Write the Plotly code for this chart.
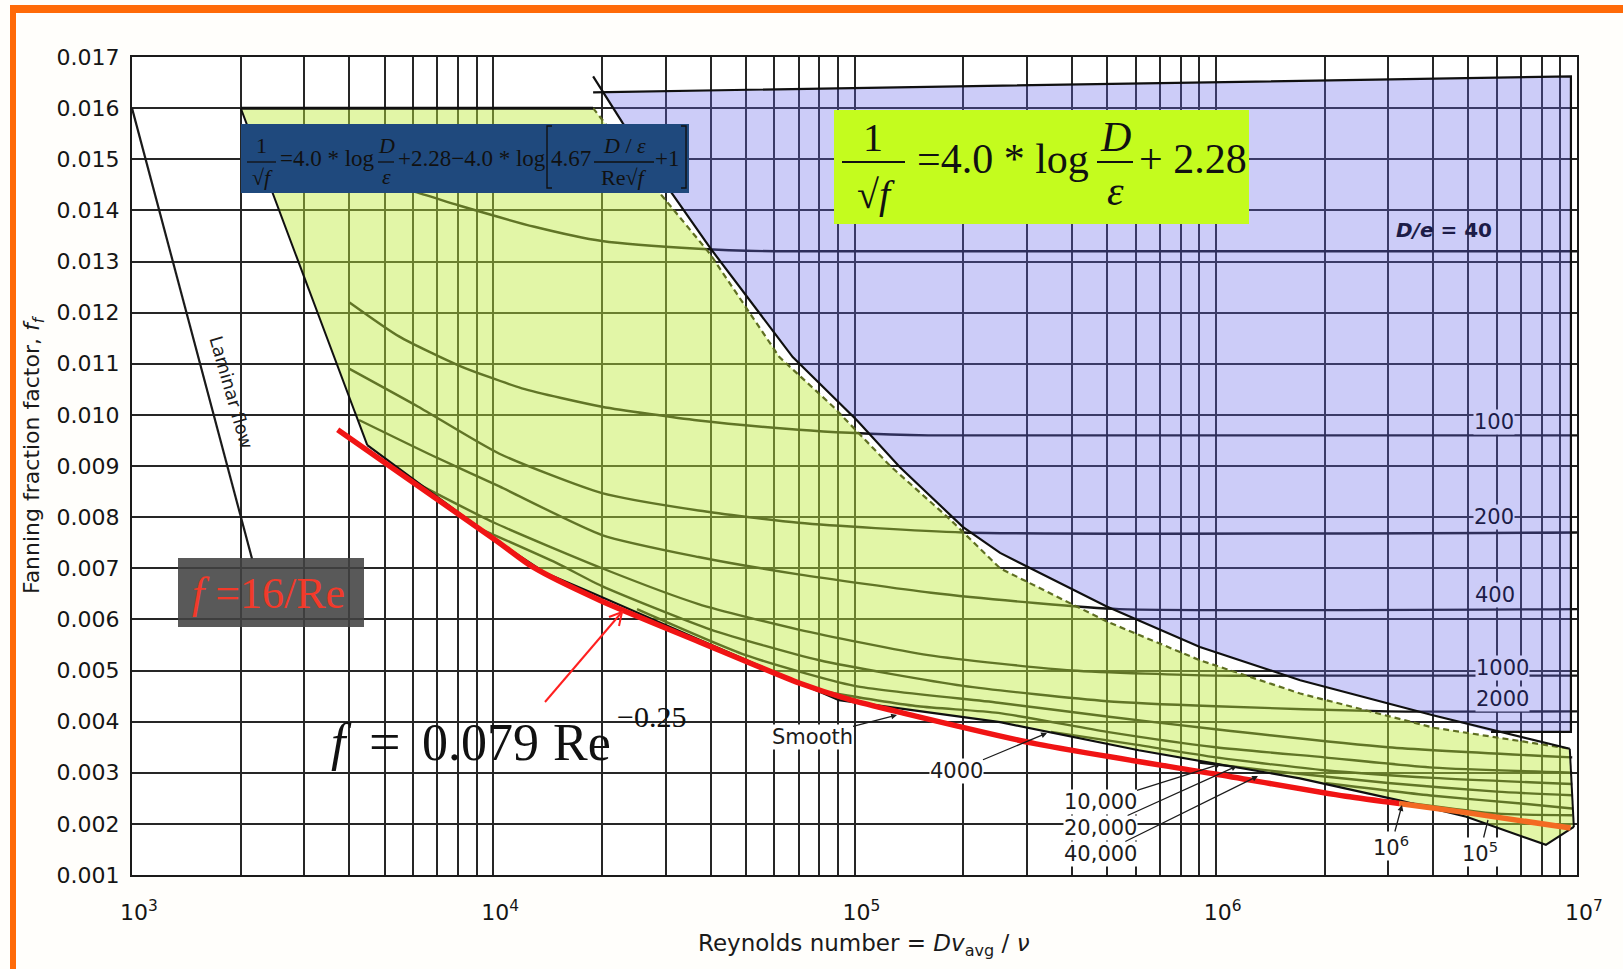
import plotly.graph_objects as go

# ---------------- data ----------------
x_decades = [1e3, 1e4, 1e5, 1e6, 1e7]
x_decade_labels = ["10<sup>3</sup>", "10<sup>4</sup>", "10<sup>5</sup>", "10<sup>6</sup>", "10<sup>7</sup>"]
x_minor_digits = [2, 3, 4, 5, 6, 7, 8, 9]
y_tick_values = [0.001, 0.002, 0.003, 0.004, 0.005, 0.006, 0.007, 0.008, 0.009,
                 0.010, 0.011, 0.012, 0.013, 0.014, 0.015, 0.016, 0.017]
y_tick_labels = ["0.001", "0.002", "0.003", "0.004", "0.005", "0.006", "0.007", "0.008", "0.009",
                 "0.010", "0.011", "0.012", "0.013", "0.014", "0.015", "0.016", "0.017"]

laminar_re = [1000, 2150]
laminar_f = [0.0160, 0.00718]

# roughness curves D/e
re_40 = [2300, 3000, 4000, 6000, 8000, 13000, 20000, 37000, 60000, 10000000]
f_40 = [0.0150, 0.01485, 0.01465, 0.01437, 0.0141, 0.01368, 0.0134, 0.01325, 0.0132, 0.0132]
re_100 = [4000, 5500, 8000, 12000, 20000, 37000, 70000, 97000, 160000, 10000000]
f_100 = [0.0122, 0.01153, 0.01097, 0.01052, 0.01016, 0.00989, 0.00971, 0.00965, 0.0096, 0.0096]
re_200 = [4000, 6200, 10400, 20000, 37000, 70000, 200000, 10000000]
f_200 = [0.0109, 0.01016, 0.00924, 0.00847, 0.00813, 0.00789, 0.0077, 0.0077]
re_400 = [4250, 6800, 10400, 20000, 37000, 70000, 163000, 316000, 540000, 10000000]
f_400 = [0.0099, 0.0092, 0.0086, 0.00765, 0.00722, 0.00688, 0.00652, 0.00632, 0.0062, 0.0062]
re_1000 = [6000, 10000, 20000, 37000, 70000, 160000, 400000, 1000000, 1700000, 10000000]
f_1000 = [0.0087, 0.0079, 0.0070, 0.0063, 0.0058, 0.0053, 0.0050, 0.0049, 0.0049, 0.0049]
re_2000 = [9000, 15000, 20000, 40000, 80000, 200000, 500000, 1000000, 3000000, 10000000]
f_2000 = [0.0078, 0.0071, 0.00665, 0.0058, 0.0052, 0.0047, 0.0044, 0.0043, 0.0042, 0.0042]
re_4000 = [25000, 50000, 100000, 250000, 500000, 1000000, 3000000, 9700000]
f_4000 = [0.0062, 0.0053, 0.0047, 0.00437, 0.0041, 0.00385, 0.0035, 0.0033]
re_1e4 = [80000, 150000, 250000, 500000, 1000000, 2000000, 4000000, 9700000]
f_1e4 = [0.0046, 0.0043, 0.00417, 0.0038, 0.0035, 0.0033, 0.0031, 0.0030]
re_2e4 = [350000, 600000, 1000000, 2000000, 4000000, 9700000]
f_2e4 = [0.0038, 0.00355, 0.0033, 0.00305, 0.0029, 0.00278]
re_4e4 = [900000, 1500000, 3000000, 6000000, 9700000]
f_4e4 = [0.0032, 0.00302, 0.0028, 0.00263, 0.00256]
re_1e5 = [2000000, 4000000, 7000000, 9700000]
f_1e5 = [0.0028, 0.00255, 0.0024, 0.0023]
re_1e6 = [3500000, 6000000, 9700000]
f_1e6 = [0.0024, 0.0022, 0.00217]

# smooth-pipe boundary (lower black line of the green band)
re_smooth = [4480, 10200, 14000, 18880, 37200, 70600, 90600, 253000, 612000,
             1710000, 3220000, 4940000, 6380000, 8200000, 9800000]
f_smooth = [0.00941, 0.00754, 0.0069, 0.00651, 0.0056, 0.00475, 0.00442, 0.00399, 0.00344,
            0.00289, 0.00246, 0.00214, 0.00187, 0.00159, 0.00194]

# upper (dashed) edge of the green band
re_green_edge = [18900, 28970, 39800, 61960, 87330, 125600, 184200, 252700, 498700,
                 903600, 1713000, 4017000, 9550000]
f_green_edge = [0.0160, 0.01433, 0.01315, 0.01113, 0.01016, 0.0090, 0.00795, 0.0070, 0.00596,
                0.0052, 0.00455, 0.00388, 0.00347]
re_green_left = [2000, 18900]
f_green_left = [0.0160, 0.0160]
re_green_corner = [2000, 4480]
f_green_corner = [0.0160, 0.00941]

# black boundary of the fully rough (blue) zone
re_blue_edge = [18900, 22850, 39800, 67450, 101700, 133400, 199400, 253000, 499000,
                904000, 1713000, 4017000, 9550000]
f_blue_edge = [0.01662, 0.0157, 0.01327, 0.01113, 0.00989, 0.00898, 0.00781, 0.0073, 0.00625,
               0.00546, 0.00481, 0.00412, 0.00347]
re_blue_frame = [18900, 9620000, 9620000, 5780000]
f_blue_frame = [0.01631, 0.01662, 0.0038, 0.0038]
re_blue_corner = [20200]
f_blue_corner = [0.01631]
re_green_right = [9550000, 9800000]
f_green_right = [0.00347, 0.00194]

# red hand-drawn f = 0.079 Re^-0.25 line
re_red = [3710, 10200, 12900, 19770, 37200, 70600, 97000, 134000, 316000, 1005000, 2290000, 3220000]
f_red = [0.00971, 0.00754, 0.00702, 0.00637, 0.00556, 0.00475, 0.00443, 0.00418, 0.00357,
         0.00297, 0.00254, 0.0024]
re_orange = [3220000, 4940000, 9600000]
f_orange = [0.0024, 0.00222, 0.00192]

# ---------------- figure ----------------
L, R, T, B = 132, 1577, 57, 875
W, H = R - L, B - T


def X(p):
    return (p - L) / W


def Y(p):
    return (B - p) / H


fig = go.Figure()

curves = [(re_40, f_40), (re_100, f_100), (re_200, f_200), (re_400, f_400),
          (re_1000, f_1000), (re_2000, f_2000), (re_4000, f_4000), (re_1e4, f_1e4),
          (re_2e4, f_2e4), (re_4e4, f_4e4), (re_1e5, f_1e5), (re_1e6, f_1e6)]
for cx, cy in curves:
    fig.add_trace(go.Scatter(x=cx, y=cy, mode="lines",
                             line=dict(color="#141414", width=2.4, shape="spline", smoothing=0.6),
                             hoverinfo="skip"))

fig.add_trace(go.Scatter(x=laminar_re, y=laminar_f, mode="lines", line=dict(color="#1a1a1a", width=2.2),
                         hoverinfo="skip"))

# blue fully-rough zone (translucent overlay)
blue_x = re_blue_corner + re_blue_frame[1:] + re_blue_edge[1:-1][::-1] + re_blue_corner
blue_y = f_blue_corner + f_blue_frame[1:] + f_blue_edge[1:-1][::-1] + f_blue_corner
fig.add_trace(go.Scatter(x=blue_x, y=blue_y, mode="lines", fill="toself", fillcolor="rgba(100,100,235,0.33)",
                         line=dict(width=0, color="rgba(0,0,0,0)"), hoverinfo="skip"))

# green transition zone (translucent overlay)
green_x = [re_green_left[0]] + re_green_edge + re_smooth[::-1] + [re_green_left[0]]
green_y = [f_green_left[0]] + f_green_edge + f_smooth[::-1] + [f_green_left[0]]
fig.add_trace(go.Scatter(x=green_x, y=green_y, mode="lines", fill="toself", fillcolor="rgba(190,235,60,0.45)",
                         line=dict(width=0, color="rgba(0,0,0,0)"), hoverinfo="skip"))

# dashed olive edge
fig.add_trace(go.Scatter(x=re_green_edge, y=f_green_edge, mode="lines",
                         line=dict(color="#5f6f22", width=2.2, dash="6px,4px"), hoverinfo="skip"))

# black outlines
for ox, oy, wd in [(re_blue_edge, f_blue_edge, 2.2), (re_blue_frame, f_blue_frame, 2.2),
                   (re_green_right, f_green_right, 2.0), (re_smooth, f_smooth, 2.2),
                   (re_green_corner, f_green_corner, 2.0), (re_green_left, f_green_left, 3.0)]:
    fig.add_trace(go.Scatter(x=ox, y=oy, mode="lines", line=dict(color="#101010", width=wd),
                             hoverinfo="skip"))

# red curve
fig.add_trace(go.Scatter(x=re_red, y=f_red, mode="lines",
                         line=dict(color="#f01414", width=5.5, shape="spline", smoothing=0.7),
                         hoverinfo="skip"))
fig.add_trace(go.Scatter(x=re_orange, y=f_orange, mode="lines",
                         line=dict(color="#f36a22", width=5.5, shape="spline"),
                         hoverinfo="skip"))

# ---------------- axes ----------------
minor_vals = [d * m for d in x_decades[:-1] for m in x_minor_digits]

fig.update_xaxes(type="log", range=[3, 7], tickmode="array", tickvals=x_decades, ticktext=x_decade_labels,
                 showgrid=True, gridcolor="#262626", gridwidth=2,
                 minor=dict(tickmode="array", tickvals=minor_vals, showgrid=True,
                            gridcolor="#262626", gridwidth=2, ticks=""),
                 ticks="outside", ticklen=17, tickcolor="rgba(0,0,0,0)", ticklabelshift=7,
                 tickfont=dict(family="DejaVu Sans", size=22, color="#151515"),
                 showline=True, linecolor="#1a1a1a", linewidth=2, mirror=True, zeroline=False)
fig.update_yaxes(range=[0.001, 0.017], tickmode="array", tickvals=y_tick_values, ticktext=y_tick_labels,
                 showgrid=True, gridcolor="#262626", gridwidth=2,
                 ticks="outside", ticklen=6, tickcolor="rgba(0,0,0,0)",
                 tickfont=dict(family="DejaVu Sans", size=22, color="#151515"),
                 showline=True, linecolor="#1a1a1a", linewidth=2, mirror=True, zeroline=False)

# ---------------- shapes ----------------
shapes = []


def rect(x0, y0, x1, y1, color):
    shapes.append(dict(type="rect", xref="paper", yref="paper", x0=X(x0), x1=X(x1), y0=Y(y1), y1=Y(y0),
                       fillcolor=color, line=dict(width=0)))


def hline(x0, x1, y, width, color="#111111"):
    shapes.append(dict(type="line", xref="paper", yref="paper", x0=X(x0), x1=X(x1), y0=Y(y), y1=Y(y),
                       line=dict(width=width, color=color)))


def polyline(pts, width, color):
    path = "M " + " L ".join("{},{}".format(X(a), Y(b)) for a, b in pts)
    shapes.append(dict(type="path", xref="paper", yref="paper", path=path,
                       line=dict(width=width, color=color)))


rect(10, 5, 1630, 13, "#ff6a08")
rect(10, 5, 16, 975, "#ff6a08")
rect(241, 124, 689, 193, "#1f497d")
rect(834, 110, 1249, 224, "#c4fc1e")
rect(178, 558, 364, 627, "rgba(66,66,66,0.88)")

# fraction bars
hline(842, 905, 162, 2.2)
hline(1097, 1133, 162, 2.2)
hline(247, 276, 162, 1.3)
hline(378, 394, 162, 1.3)
hline(594, 654, 162, 1.3)

# brackets in the blue formula
polyline([(552, 126), (547, 126), (547, 188), (552, 188)], 1.4, "#111111")
polyline([(681, 126), (686, 126), (686, 188), (681, 188)], 1.4, "#111111")

# red pointer towards the red curve
polyline([(545, 702), (622, 612)], 2, "#ff2020")
polyline([(609, 617), (622, 612), (619, 626)], 2, "#ff2020")

fig.update_layout(shapes=shapes)

# ---------------- annotations ----------------
anns = []


def txt(text, x, y, size, color="#111111", family="Liberation Serif", angle=0, bg=None):
    a = dict(xref="paper", yref="paper", x=X(x), y=Y(y), text=text, showarrow=False,
             xanchor="center", yanchor="middle", textangle=angle,
             font=dict(family=family, size=size, color=color), borderpad=0)
    if bg:
        a["bgcolor"] = bg
    anns.append(a)


def label_arrow(text, cx, cy, hx, hy, size=21, head=2, color="#1c1c1c", bg="white"):
    anns.append(dict(xref="paper", yref="paper", x=X(hx), y=Y(hy), ax=cx - hx, ay=cy - hy,
                     text=text, showarrow=True, arrowhead=head, arrowsize=0.9, arrowwidth=1.3,
                     arrowcolor=color, bgcolor=bg, borderpad=0,
                     font=dict(family="DejaVu Sans", size=size, color=color)))


# green box formula
txt("1", 873, 137, 40)
txt("√<i>f</i>", 876, 195, 40)
txt("=4.0 * log", 1003, 159, 42)
txt("<i>D</i>", 1115, 137, 42)
txt("<i>ε</i>", 1115, 191, 42)
txt("+ 2.28", 1193, 159, 42)

# blue box formula
txt("1", 261, 145, 22)
txt("√<i>f</i>", 262, 177, 22)
txt("=4.0 * log", 327, 159, 23)
txt("<i>D</i>", 386, 145, 22)
txt("<i>ε</i>", 386, 176, 22)
txt("+2.28−4.0 * log", 472, 159, 23)
txt("4.67", 571, 159, 23)
txt("<i>D</i> / <i>ε</i>", 624, 145, 22)
txt("Re√<i>f</i>", 624, 177, 22)
txt("+1", 667, 159, 23)

# laminar formula
txt("<i>f</i> =16/Re", 268, 593, 44, color="#f23a2a")

# Blasius formula
txt("<i>f</i>", 341, 742, 52)
txt("=", 385, 742, 56)
txt("0.079", 480, 742, 52)
txt("Re", 582, 742, 52)
txt("−0.25", 651, 716, 30)

# chart labels
navy = "#1c1c48"
lav = "#ccccf7"
txt("<b><i>D/e</i> = 40</b>", 1444, 230, 20, color=navy, family="DejaVu Sans")
txt("100", 1494, 422, 21, color=navy, family="DejaVu Sans", bg=lav)
txt("200", 1494, 517, 21, color=navy, family="DejaVu Sans", bg=lav)
txt("400", 1495, 595, 21, color=navy, family="DejaVu Sans", bg=lav)
txt("1000", 1502, 668, 21, color=navy, family="DejaVu Sans", bg=lav)
txt("2000", 1502, 699, 21, color=navy, family="DejaVu Sans", bg=lav)

label_arrow("Smooth", 812, 737, 897, 715)
label_arrow("4000", 956, 771, 1047, 733)
label_arrow("10,000", 1100, 802, 1221, 764)
label_arrow("20,000", 1100, 828, 1237, 766)
label_arrow("40,000", 1100, 854, 1258, 776)
label_arrow("10<sup>6</sup>", 1391, 846, 1402, 805)
label_arrow("10<sup>5</sup>", 1480, 852, 1488, 820, head=0)

txt("Laminar flow", 232, 392, 18, color="#1c1c1c", family="DejaVu Sans", angle=74)

# axis titles
txt("Reynolds number = <i>Dv</i><sub>avg</sub> / <i>ν</i>", 864, 945, 23, color="#1a1a1a", family="DejaVu Sans")
txt("Fanning fraction factor, <i>f</i><sub><i>f</i></sub>", 33, 455, 22, color="#1a1a1a",
    family="DejaVu Sans", angle=-90)

fig.update_layout(annotations=anns, width=1623, height=969,
                  margin=dict(l=L, r=1623 - R, t=T, b=969 - B, autoexpand=False),
                  paper_bgcolor="#fffefb", plot_bgcolor="white", showlegend=False,
                  hovermode=False)

fig.write_html("out.html", config={"displayModeBar": False, "staticPlot": True},
               post_script="document.body.style.margin='0px';")
